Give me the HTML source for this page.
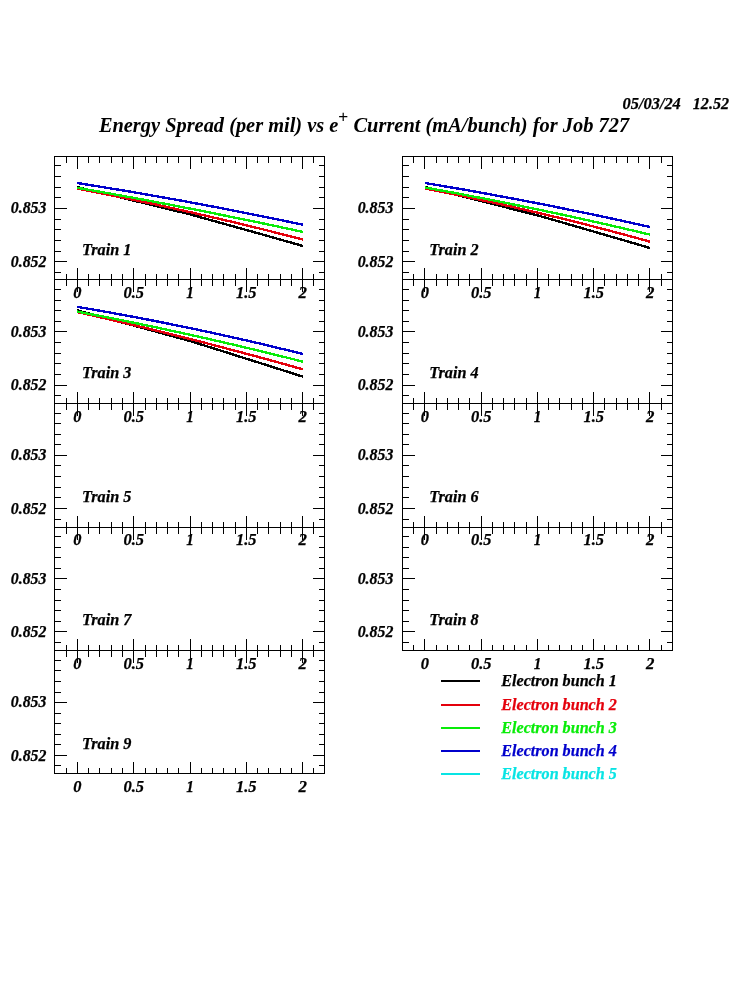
<!DOCTYPE html>
<html lang="en"><head><meta charset="utf-8"><title>Energy Spread (per mil) vs e+ Current (mA/bunch) for Job 727</title>
<style>html,body{margin:0;padding:0;background:#fff}body{width:750px;height:1000px;overflow:hidden}svg{display:block;will-change:transform}text{white-space:pre}</style>
</head><body>
<svg width="750" height="1000" viewBox="0 0 750 1000">
<g fill="#000" shape-rendering="crispEdges">
<rect x="54" y="156" width="271" height="1"/>
<rect x="54" y="279" width="271" height="1"/>
<rect x="54" y="156" width="1" height="124"/>
<rect x="324" y="156" width="1" height="124"/>
<rect x="66" y="156" width="1" height="7"/>
<rect x="66" y="274" width="1" height="6"/>
<rect x="77" y="156" width="1" height="13"/>
<rect x="77" y="268" width="1" height="12"/>
<rect x="88" y="156" width="1" height="7"/>
<rect x="88" y="274" width="1" height="6"/>
<rect x="99" y="156" width="1" height="7"/>
<rect x="99" y="274" width="1" height="6"/>
<rect x="111" y="156" width="1" height="7"/>
<rect x="111" y="274" width="1" height="6"/>
<rect x="122" y="156" width="1" height="7"/>
<rect x="122" y="274" width="1" height="6"/>
<rect x="133" y="156" width="1" height="13"/>
<rect x="133" y="268" width="1" height="12"/>
<rect x="145" y="156" width="1" height="7"/>
<rect x="145" y="274" width="1" height="6"/>
<rect x="156" y="156" width="1" height="7"/>
<rect x="156" y="274" width="1" height="6"/>
<rect x="167" y="156" width="1" height="7"/>
<rect x="167" y="274" width="1" height="6"/>
<rect x="178" y="156" width="1" height="7"/>
<rect x="178" y="274" width="1" height="6"/>
<rect x="190" y="156" width="1" height="13"/>
<rect x="190" y="268" width="1" height="12"/>
<rect x="201" y="156" width="1" height="7"/>
<rect x="201" y="274" width="1" height="6"/>
<rect x="212" y="156" width="1" height="7"/>
<rect x="212" y="274" width="1" height="6"/>
<rect x="223" y="156" width="1" height="7"/>
<rect x="223" y="274" width="1" height="6"/>
<rect x="235" y="156" width="1" height="7"/>
<rect x="235" y="274" width="1" height="6"/>
<rect x="246" y="156" width="1" height="13"/>
<rect x="246" y="268" width="1" height="12"/>
<rect x="257" y="156" width="1" height="7"/>
<rect x="257" y="274" width="1" height="6"/>
<rect x="268" y="156" width="1" height="7"/>
<rect x="268" y="274" width="1" height="6"/>
<rect x="280" y="156" width="1" height="7"/>
<rect x="280" y="274" width="1" height="6"/>
<rect x="291" y="156" width="1" height="7"/>
<rect x="291" y="274" width="1" height="6"/>
<rect x="302" y="156" width="1" height="13"/>
<rect x="302" y="268" width="1" height="12"/>
<rect x="313" y="156" width="1" height="7"/>
<rect x="313" y="274" width="1" height="6"/>
<rect x="54" y="165" width="7" height="1"/>
<rect x="319" y="165" width="6" height="1"/>
<rect x="54" y="176" width="7" height="1"/>
<rect x="319" y="176" width="6" height="1"/>
<rect x="54" y="187" width="7" height="1"/>
<rect x="319" y="187" width="6" height="1"/>
<rect x="54" y="197" width="7" height="1"/>
<rect x="319" y="197" width="6" height="1"/>
<rect x="54" y="208" width="13" height="1"/>
<rect x="313" y="208" width="12" height="1"/>
<rect x="54" y="219" width="7" height="1"/>
<rect x="319" y="219" width="6" height="1"/>
<rect x="54" y="229" width="7" height="1"/>
<rect x="319" y="229" width="6" height="1"/>
<rect x="54" y="240" width="7" height="1"/>
<rect x="319" y="240" width="6" height="1"/>
<rect x="54" y="251" width="7" height="1"/>
<rect x="319" y="251" width="6" height="1"/>
<rect x="54" y="261" width="13" height="1"/>
<rect x="313" y="261" width="12" height="1"/>
<rect x="54" y="272" width="7" height="1"/>
<rect x="319" y="272" width="6" height="1"/>
<rect x="402" y="156" width="271" height="1"/>
<rect x="402" y="279" width="271" height="1"/>
<rect x="402" y="156" width="1" height="124"/>
<rect x="672" y="156" width="1" height="124"/>
<rect x="413" y="156" width="1" height="7"/>
<rect x="413" y="274" width="1" height="6"/>
<rect x="424" y="156" width="1" height="13"/>
<rect x="424" y="268" width="1" height="12"/>
<rect x="436" y="156" width="1" height="7"/>
<rect x="436" y="274" width="1" height="6"/>
<rect x="447" y="156" width="1" height="7"/>
<rect x="447" y="274" width="1" height="6"/>
<rect x="458" y="156" width="1" height="7"/>
<rect x="458" y="274" width="1" height="6"/>
<rect x="469" y="156" width="1" height="7"/>
<rect x="469" y="274" width="1" height="6"/>
<rect x="481" y="156" width="1" height="13"/>
<rect x="481" y="268" width="1" height="12"/>
<rect x="492" y="156" width="1" height="7"/>
<rect x="492" y="274" width="1" height="6"/>
<rect x="503" y="156" width="1" height="7"/>
<rect x="503" y="274" width="1" height="6"/>
<rect x="514" y="156" width="1" height="7"/>
<rect x="514" y="274" width="1" height="6"/>
<rect x="526" y="156" width="1" height="7"/>
<rect x="526" y="274" width="1" height="6"/>
<rect x="537" y="156" width="1" height="13"/>
<rect x="537" y="268" width="1" height="12"/>
<rect x="548" y="156" width="1" height="7"/>
<rect x="548" y="274" width="1" height="6"/>
<rect x="559" y="156" width="1" height="7"/>
<rect x="559" y="274" width="1" height="6"/>
<rect x="571" y="156" width="1" height="7"/>
<rect x="571" y="274" width="1" height="6"/>
<rect x="582" y="156" width="1" height="7"/>
<rect x="582" y="274" width="1" height="6"/>
<rect x="593" y="156" width="1" height="13"/>
<rect x="593" y="268" width="1" height="12"/>
<rect x="604" y="156" width="1" height="7"/>
<rect x="604" y="274" width="1" height="6"/>
<rect x="616" y="156" width="1" height="7"/>
<rect x="616" y="274" width="1" height="6"/>
<rect x="627" y="156" width="1" height="7"/>
<rect x="627" y="274" width="1" height="6"/>
<rect x="638" y="156" width="1" height="7"/>
<rect x="638" y="274" width="1" height="6"/>
<rect x="649" y="156" width="1" height="13"/>
<rect x="649" y="268" width="1" height="12"/>
<rect x="661" y="156" width="1" height="7"/>
<rect x="661" y="274" width="1" height="6"/>
<rect x="402" y="165" width="7" height="1"/>
<rect x="667" y="165" width="6" height="1"/>
<rect x="402" y="176" width="7" height="1"/>
<rect x="667" y="176" width="6" height="1"/>
<rect x="402" y="187" width="7" height="1"/>
<rect x="667" y="187" width="6" height="1"/>
<rect x="402" y="197" width="7" height="1"/>
<rect x="667" y="197" width="6" height="1"/>
<rect x="402" y="208" width="13" height="1"/>
<rect x="661" y="208" width="12" height="1"/>
<rect x="402" y="219" width="7" height="1"/>
<rect x="667" y="219" width="6" height="1"/>
<rect x="402" y="229" width="7" height="1"/>
<rect x="667" y="229" width="6" height="1"/>
<rect x="402" y="240" width="7" height="1"/>
<rect x="667" y="240" width="6" height="1"/>
<rect x="402" y="251" width="7" height="1"/>
<rect x="667" y="251" width="6" height="1"/>
<rect x="402" y="261" width="13" height="1"/>
<rect x="661" y="261" width="12" height="1"/>
<rect x="402" y="272" width="7" height="1"/>
<rect x="667" y="272" width="6" height="1"/>
<rect x="54" y="279" width="271" height="1"/>
<rect x="54" y="403" width="271" height="1"/>
<rect x="54" y="279" width="1" height="125"/>
<rect x="324" y="279" width="1" height="125"/>
<rect x="66" y="279" width="1" height="7"/>
<rect x="66" y="398" width="1" height="6"/>
<rect x="77" y="279" width="1" height="13"/>
<rect x="77" y="392" width="1" height="12"/>
<rect x="88" y="279" width="1" height="7"/>
<rect x="88" y="398" width="1" height="6"/>
<rect x="99" y="279" width="1" height="7"/>
<rect x="99" y="398" width="1" height="6"/>
<rect x="111" y="279" width="1" height="7"/>
<rect x="111" y="398" width="1" height="6"/>
<rect x="122" y="279" width="1" height="7"/>
<rect x="122" y="398" width="1" height="6"/>
<rect x="133" y="279" width="1" height="13"/>
<rect x="133" y="392" width="1" height="12"/>
<rect x="145" y="279" width="1" height="7"/>
<rect x="145" y="398" width="1" height="6"/>
<rect x="156" y="279" width="1" height="7"/>
<rect x="156" y="398" width="1" height="6"/>
<rect x="167" y="279" width="1" height="7"/>
<rect x="167" y="398" width="1" height="6"/>
<rect x="178" y="279" width="1" height="7"/>
<rect x="178" y="398" width="1" height="6"/>
<rect x="190" y="279" width="1" height="13"/>
<rect x="190" y="392" width="1" height="12"/>
<rect x="201" y="279" width="1" height="7"/>
<rect x="201" y="398" width="1" height="6"/>
<rect x="212" y="279" width="1" height="7"/>
<rect x="212" y="398" width="1" height="6"/>
<rect x="223" y="279" width="1" height="7"/>
<rect x="223" y="398" width="1" height="6"/>
<rect x="235" y="279" width="1" height="7"/>
<rect x="235" y="398" width="1" height="6"/>
<rect x="246" y="279" width="1" height="13"/>
<rect x="246" y="392" width="1" height="12"/>
<rect x="257" y="279" width="1" height="7"/>
<rect x="257" y="398" width="1" height="6"/>
<rect x="268" y="279" width="1" height="7"/>
<rect x="268" y="398" width="1" height="6"/>
<rect x="280" y="279" width="1" height="7"/>
<rect x="280" y="398" width="1" height="6"/>
<rect x="291" y="279" width="1" height="7"/>
<rect x="291" y="398" width="1" height="6"/>
<rect x="302" y="279" width="1" height="13"/>
<rect x="302" y="392" width="1" height="12"/>
<rect x="313" y="279" width="1" height="7"/>
<rect x="313" y="398" width="1" height="6"/>
<rect x="54" y="289" width="7" height="1"/>
<rect x="319" y="289" width="6" height="1"/>
<rect x="54" y="300" width="7" height="1"/>
<rect x="319" y="300" width="6" height="1"/>
<rect x="54" y="310" width="7" height="1"/>
<rect x="319" y="310" width="6" height="1"/>
<rect x="54" y="321" width="7" height="1"/>
<rect x="319" y="321" width="6" height="1"/>
<rect x="54" y="331" width="13" height="1"/>
<rect x="313" y="331" width="12" height="1"/>
<rect x="54" y="342" width="7" height="1"/>
<rect x="319" y="342" width="6" height="1"/>
<rect x="54" y="353" width="7" height="1"/>
<rect x="319" y="353" width="6" height="1"/>
<rect x="54" y="363" width="7" height="1"/>
<rect x="319" y="363" width="6" height="1"/>
<rect x="54" y="374" width="7" height="1"/>
<rect x="319" y="374" width="6" height="1"/>
<rect x="54" y="385" width="13" height="1"/>
<rect x="313" y="385" width="12" height="1"/>
<rect x="54" y="395" width="7" height="1"/>
<rect x="319" y="395" width="6" height="1"/>
<rect x="402" y="279" width="271" height="1"/>
<rect x="402" y="403" width="271" height="1"/>
<rect x="402" y="279" width="1" height="125"/>
<rect x="672" y="279" width="1" height="125"/>
<rect x="413" y="279" width="1" height="7"/>
<rect x="413" y="398" width="1" height="6"/>
<rect x="424" y="279" width="1" height="13"/>
<rect x="424" y="392" width="1" height="12"/>
<rect x="436" y="279" width="1" height="7"/>
<rect x="436" y="398" width="1" height="6"/>
<rect x="447" y="279" width="1" height="7"/>
<rect x="447" y="398" width="1" height="6"/>
<rect x="458" y="279" width="1" height="7"/>
<rect x="458" y="398" width="1" height="6"/>
<rect x="469" y="279" width="1" height="7"/>
<rect x="469" y="398" width="1" height="6"/>
<rect x="481" y="279" width="1" height="13"/>
<rect x="481" y="392" width="1" height="12"/>
<rect x="492" y="279" width="1" height="7"/>
<rect x="492" y="398" width="1" height="6"/>
<rect x="503" y="279" width="1" height="7"/>
<rect x="503" y="398" width="1" height="6"/>
<rect x="514" y="279" width="1" height="7"/>
<rect x="514" y="398" width="1" height="6"/>
<rect x="526" y="279" width="1" height="7"/>
<rect x="526" y="398" width="1" height="6"/>
<rect x="537" y="279" width="1" height="13"/>
<rect x="537" y="392" width="1" height="12"/>
<rect x="548" y="279" width="1" height="7"/>
<rect x="548" y="398" width="1" height="6"/>
<rect x="559" y="279" width="1" height="7"/>
<rect x="559" y="398" width="1" height="6"/>
<rect x="571" y="279" width="1" height="7"/>
<rect x="571" y="398" width="1" height="6"/>
<rect x="582" y="279" width="1" height="7"/>
<rect x="582" y="398" width="1" height="6"/>
<rect x="593" y="279" width="1" height="13"/>
<rect x="593" y="392" width="1" height="12"/>
<rect x="604" y="279" width="1" height="7"/>
<rect x="604" y="398" width="1" height="6"/>
<rect x="616" y="279" width="1" height="7"/>
<rect x="616" y="398" width="1" height="6"/>
<rect x="627" y="279" width="1" height="7"/>
<rect x="627" y="398" width="1" height="6"/>
<rect x="638" y="279" width="1" height="7"/>
<rect x="638" y="398" width="1" height="6"/>
<rect x="649" y="279" width="1" height="13"/>
<rect x="649" y="392" width="1" height="12"/>
<rect x="661" y="279" width="1" height="7"/>
<rect x="661" y="398" width="1" height="6"/>
<rect x="402" y="289" width="7" height="1"/>
<rect x="667" y="289" width="6" height="1"/>
<rect x="402" y="300" width="7" height="1"/>
<rect x="667" y="300" width="6" height="1"/>
<rect x="402" y="310" width="7" height="1"/>
<rect x="667" y="310" width="6" height="1"/>
<rect x="402" y="321" width="7" height="1"/>
<rect x="667" y="321" width="6" height="1"/>
<rect x="402" y="331" width="13" height="1"/>
<rect x="661" y="331" width="12" height="1"/>
<rect x="402" y="342" width="7" height="1"/>
<rect x="667" y="342" width="6" height="1"/>
<rect x="402" y="353" width="7" height="1"/>
<rect x="667" y="353" width="6" height="1"/>
<rect x="402" y="363" width="7" height="1"/>
<rect x="667" y="363" width="6" height="1"/>
<rect x="402" y="374" width="7" height="1"/>
<rect x="667" y="374" width="6" height="1"/>
<rect x="402" y="385" width="13" height="1"/>
<rect x="661" y="385" width="12" height="1"/>
<rect x="402" y="395" width="7" height="1"/>
<rect x="667" y="395" width="6" height="1"/>
<rect x="54" y="403" width="271" height="1"/>
<rect x="54" y="527" width="271" height="1"/>
<rect x="54" y="403" width="1" height="125"/>
<rect x="324" y="403" width="1" height="125"/>
<rect x="66" y="403" width="1" height="7"/>
<rect x="66" y="522" width="1" height="6"/>
<rect x="77" y="403" width="1" height="13"/>
<rect x="77" y="516" width="1" height="12"/>
<rect x="88" y="403" width="1" height="7"/>
<rect x="88" y="522" width="1" height="6"/>
<rect x="99" y="403" width="1" height="7"/>
<rect x="99" y="522" width="1" height="6"/>
<rect x="111" y="403" width="1" height="7"/>
<rect x="111" y="522" width="1" height="6"/>
<rect x="122" y="403" width="1" height="7"/>
<rect x="122" y="522" width="1" height="6"/>
<rect x="133" y="403" width="1" height="13"/>
<rect x="133" y="516" width="1" height="12"/>
<rect x="145" y="403" width="1" height="7"/>
<rect x="145" y="522" width="1" height="6"/>
<rect x="156" y="403" width="1" height="7"/>
<rect x="156" y="522" width="1" height="6"/>
<rect x="167" y="403" width="1" height="7"/>
<rect x="167" y="522" width="1" height="6"/>
<rect x="178" y="403" width="1" height="7"/>
<rect x="178" y="522" width="1" height="6"/>
<rect x="190" y="403" width="1" height="13"/>
<rect x="190" y="516" width="1" height="12"/>
<rect x="201" y="403" width="1" height="7"/>
<rect x="201" y="522" width="1" height="6"/>
<rect x="212" y="403" width="1" height="7"/>
<rect x="212" y="522" width="1" height="6"/>
<rect x="223" y="403" width="1" height="7"/>
<rect x="223" y="522" width="1" height="6"/>
<rect x="235" y="403" width="1" height="7"/>
<rect x="235" y="522" width="1" height="6"/>
<rect x="246" y="403" width="1" height="13"/>
<rect x="246" y="516" width="1" height="12"/>
<rect x="257" y="403" width="1" height="7"/>
<rect x="257" y="522" width="1" height="6"/>
<rect x="268" y="403" width="1" height="7"/>
<rect x="268" y="522" width="1" height="6"/>
<rect x="280" y="403" width="1" height="7"/>
<rect x="280" y="522" width="1" height="6"/>
<rect x="291" y="403" width="1" height="7"/>
<rect x="291" y="522" width="1" height="6"/>
<rect x="302" y="403" width="1" height="13"/>
<rect x="302" y="516" width="1" height="12"/>
<rect x="313" y="403" width="1" height="7"/>
<rect x="313" y="522" width="1" height="6"/>
<rect x="54" y="413" width="7" height="1"/>
<rect x="319" y="413" width="6" height="1"/>
<rect x="54" y="423" width="7" height="1"/>
<rect x="319" y="423" width="6" height="1"/>
<rect x="54" y="434" width="7" height="1"/>
<rect x="319" y="434" width="6" height="1"/>
<rect x="54" y="444" width="7" height="1"/>
<rect x="319" y="444" width="6" height="1"/>
<rect x="54" y="455" width="13" height="1"/>
<rect x="313" y="455" width="12" height="1"/>
<rect x="54" y="465" width="7" height="1"/>
<rect x="319" y="465" width="6" height="1"/>
<rect x="54" y="476" width="7" height="1"/>
<rect x="319" y="476" width="6" height="1"/>
<rect x="54" y="487" width="7" height="1"/>
<rect x="319" y="487" width="6" height="1"/>
<rect x="54" y="497" width="7" height="1"/>
<rect x="319" y="497" width="6" height="1"/>
<rect x="54" y="508" width="13" height="1"/>
<rect x="313" y="508" width="12" height="1"/>
<rect x="54" y="519" width="7" height="1"/>
<rect x="319" y="519" width="6" height="1"/>
<rect x="402" y="403" width="271" height="1"/>
<rect x="402" y="527" width="271" height="1"/>
<rect x="402" y="403" width="1" height="125"/>
<rect x="672" y="403" width="1" height="125"/>
<rect x="413" y="403" width="1" height="7"/>
<rect x="413" y="522" width="1" height="6"/>
<rect x="424" y="403" width="1" height="13"/>
<rect x="424" y="516" width="1" height="12"/>
<rect x="436" y="403" width="1" height="7"/>
<rect x="436" y="522" width="1" height="6"/>
<rect x="447" y="403" width="1" height="7"/>
<rect x="447" y="522" width="1" height="6"/>
<rect x="458" y="403" width="1" height="7"/>
<rect x="458" y="522" width="1" height="6"/>
<rect x="469" y="403" width="1" height="7"/>
<rect x="469" y="522" width="1" height="6"/>
<rect x="481" y="403" width="1" height="13"/>
<rect x="481" y="516" width="1" height="12"/>
<rect x="492" y="403" width="1" height="7"/>
<rect x="492" y="522" width="1" height="6"/>
<rect x="503" y="403" width="1" height="7"/>
<rect x="503" y="522" width="1" height="6"/>
<rect x="514" y="403" width="1" height="7"/>
<rect x="514" y="522" width="1" height="6"/>
<rect x="526" y="403" width="1" height="7"/>
<rect x="526" y="522" width="1" height="6"/>
<rect x="537" y="403" width="1" height="13"/>
<rect x="537" y="516" width="1" height="12"/>
<rect x="548" y="403" width="1" height="7"/>
<rect x="548" y="522" width="1" height="6"/>
<rect x="559" y="403" width="1" height="7"/>
<rect x="559" y="522" width="1" height="6"/>
<rect x="571" y="403" width="1" height="7"/>
<rect x="571" y="522" width="1" height="6"/>
<rect x="582" y="403" width="1" height="7"/>
<rect x="582" y="522" width="1" height="6"/>
<rect x="593" y="403" width="1" height="13"/>
<rect x="593" y="516" width="1" height="12"/>
<rect x="604" y="403" width="1" height="7"/>
<rect x="604" y="522" width="1" height="6"/>
<rect x="616" y="403" width="1" height="7"/>
<rect x="616" y="522" width="1" height="6"/>
<rect x="627" y="403" width="1" height="7"/>
<rect x="627" y="522" width="1" height="6"/>
<rect x="638" y="403" width="1" height="7"/>
<rect x="638" y="522" width="1" height="6"/>
<rect x="649" y="403" width="1" height="13"/>
<rect x="649" y="516" width="1" height="12"/>
<rect x="661" y="403" width="1" height="7"/>
<rect x="661" y="522" width="1" height="6"/>
<rect x="402" y="413" width="7" height="1"/>
<rect x="667" y="413" width="6" height="1"/>
<rect x="402" y="423" width="7" height="1"/>
<rect x="667" y="423" width="6" height="1"/>
<rect x="402" y="434" width="7" height="1"/>
<rect x="667" y="434" width="6" height="1"/>
<rect x="402" y="444" width="7" height="1"/>
<rect x="667" y="444" width="6" height="1"/>
<rect x="402" y="455" width="13" height="1"/>
<rect x="661" y="455" width="12" height="1"/>
<rect x="402" y="465" width="7" height="1"/>
<rect x="667" y="465" width="6" height="1"/>
<rect x="402" y="476" width="7" height="1"/>
<rect x="667" y="476" width="6" height="1"/>
<rect x="402" y="487" width="7" height="1"/>
<rect x="667" y="487" width="6" height="1"/>
<rect x="402" y="497" width="7" height="1"/>
<rect x="667" y="497" width="6" height="1"/>
<rect x="402" y="508" width="13" height="1"/>
<rect x="661" y="508" width="12" height="1"/>
<rect x="402" y="519" width="7" height="1"/>
<rect x="667" y="519" width="6" height="1"/>
<rect x="54" y="527" width="271" height="1"/>
<rect x="54" y="650" width="271" height="1"/>
<rect x="54" y="527" width="1" height="124"/>
<rect x="324" y="527" width="1" height="124"/>
<rect x="66" y="527" width="1" height="7"/>
<rect x="66" y="645" width="1" height="6"/>
<rect x="77" y="527" width="1" height="13"/>
<rect x="77" y="639" width="1" height="12"/>
<rect x="88" y="527" width="1" height="7"/>
<rect x="88" y="645" width="1" height="6"/>
<rect x="99" y="527" width="1" height="7"/>
<rect x="99" y="645" width="1" height="6"/>
<rect x="111" y="527" width="1" height="7"/>
<rect x="111" y="645" width="1" height="6"/>
<rect x="122" y="527" width="1" height="7"/>
<rect x="122" y="645" width="1" height="6"/>
<rect x="133" y="527" width="1" height="13"/>
<rect x="133" y="639" width="1" height="12"/>
<rect x="145" y="527" width="1" height="7"/>
<rect x="145" y="645" width="1" height="6"/>
<rect x="156" y="527" width="1" height="7"/>
<rect x="156" y="645" width="1" height="6"/>
<rect x="167" y="527" width="1" height="7"/>
<rect x="167" y="645" width="1" height="6"/>
<rect x="178" y="527" width="1" height="7"/>
<rect x="178" y="645" width="1" height="6"/>
<rect x="190" y="527" width="1" height="13"/>
<rect x="190" y="639" width="1" height="12"/>
<rect x="201" y="527" width="1" height="7"/>
<rect x="201" y="645" width="1" height="6"/>
<rect x="212" y="527" width="1" height="7"/>
<rect x="212" y="645" width="1" height="6"/>
<rect x="223" y="527" width="1" height="7"/>
<rect x="223" y="645" width="1" height="6"/>
<rect x="235" y="527" width="1" height="7"/>
<rect x="235" y="645" width="1" height="6"/>
<rect x="246" y="527" width="1" height="13"/>
<rect x="246" y="639" width="1" height="12"/>
<rect x="257" y="527" width="1" height="7"/>
<rect x="257" y="645" width="1" height="6"/>
<rect x="268" y="527" width="1" height="7"/>
<rect x="268" y="645" width="1" height="6"/>
<rect x="280" y="527" width="1" height="7"/>
<rect x="280" y="645" width="1" height="6"/>
<rect x="291" y="527" width="1" height="7"/>
<rect x="291" y="645" width="1" height="6"/>
<rect x="302" y="527" width="1" height="13"/>
<rect x="302" y="639" width="1" height="12"/>
<rect x="313" y="527" width="1" height="7"/>
<rect x="313" y="645" width="1" height="6"/>
<rect x="54" y="536" width="7" height="1"/>
<rect x="319" y="536" width="6" height="1"/>
<rect x="54" y="547" width="7" height="1"/>
<rect x="319" y="547" width="6" height="1"/>
<rect x="54" y="557" width="7" height="1"/>
<rect x="319" y="557" width="6" height="1"/>
<rect x="54" y="568" width="7" height="1"/>
<rect x="319" y="568" width="6" height="1"/>
<rect x="54" y="578" width="13" height="1"/>
<rect x="313" y="578" width="12" height="1"/>
<rect x="54" y="589" width="7" height="1"/>
<rect x="319" y="589" width="6" height="1"/>
<rect x="54" y="600" width="7" height="1"/>
<rect x="319" y="600" width="6" height="1"/>
<rect x="54" y="610" width="7" height="1"/>
<rect x="319" y="610" width="6" height="1"/>
<rect x="54" y="621" width="7" height="1"/>
<rect x="319" y="621" width="6" height="1"/>
<rect x="54" y="631" width="13" height="1"/>
<rect x="313" y="631" width="12" height="1"/>
<rect x="54" y="642" width="7" height="1"/>
<rect x="319" y="642" width="6" height="1"/>
<rect x="402" y="527" width="271" height="1"/>
<rect x="402" y="650" width="271" height="1"/>
<rect x="402" y="527" width="1" height="124"/>
<rect x="672" y="527" width="1" height="124"/>
<rect x="413" y="527" width="1" height="7"/>
<rect x="413" y="645" width="1" height="6"/>
<rect x="424" y="527" width="1" height="13"/>
<rect x="424" y="639" width="1" height="12"/>
<rect x="436" y="527" width="1" height="7"/>
<rect x="436" y="645" width="1" height="6"/>
<rect x="447" y="527" width="1" height="7"/>
<rect x="447" y="645" width="1" height="6"/>
<rect x="458" y="527" width="1" height="7"/>
<rect x="458" y="645" width="1" height="6"/>
<rect x="469" y="527" width="1" height="7"/>
<rect x="469" y="645" width="1" height="6"/>
<rect x="481" y="527" width="1" height="13"/>
<rect x="481" y="639" width="1" height="12"/>
<rect x="492" y="527" width="1" height="7"/>
<rect x="492" y="645" width="1" height="6"/>
<rect x="503" y="527" width="1" height="7"/>
<rect x="503" y="645" width="1" height="6"/>
<rect x="514" y="527" width="1" height="7"/>
<rect x="514" y="645" width="1" height="6"/>
<rect x="526" y="527" width="1" height="7"/>
<rect x="526" y="645" width="1" height="6"/>
<rect x="537" y="527" width="1" height="13"/>
<rect x="537" y="639" width="1" height="12"/>
<rect x="548" y="527" width="1" height="7"/>
<rect x="548" y="645" width="1" height="6"/>
<rect x="559" y="527" width="1" height="7"/>
<rect x="559" y="645" width="1" height="6"/>
<rect x="571" y="527" width="1" height="7"/>
<rect x="571" y="645" width="1" height="6"/>
<rect x="582" y="527" width="1" height="7"/>
<rect x="582" y="645" width="1" height="6"/>
<rect x="593" y="527" width="1" height="13"/>
<rect x="593" y="639" width="1" height="12"/>
<rect x="604" y="527" width="1" height="7"/>
<rect x="604" y="645" width="1" height="6"/>
<rect x="616" y="527" width="1" height="7"/>
<rect x="616" y="645" width="1" height="6"/>
<rect x="627" y="527" width="1" height="7"/>
<rect x="627" y="645" width="1" height="6"/>
<rect x="638" y="527" width="1" height="7"/>
<rect x="638" y="645" width="1" height="6"/>
<rect x="649" y="527" width="1" height="13"/>
<rect x="649" y="639" width="1" height="12"/>
<rect x="661" y="527" width="1" height="7"/>
<rect x="661" y="645" width="1" height="6"/>
<rect x="402" y="536" width="7" height="1"/>
<rect x="667" y="536" width="6" height="1"/>
<rect x="402" y="547" width="7" height="1"/>
<rect x="667" y="547" width="6" height="1"/>
<rect x="402" y="557" width="7" height="1"/>
<rect x="667" y="557" width="6" height="1"/>
<rect x="402" y="568" width="7" height="1"/>
<rect x="667" y="568" width="6" height="1"/>
<rect x="402" y="578" width="13" height="1"/>
<rect x="661" y="578" width="12" height="1"/>
<rect x="402" y="589" width="7" height="1"/>
<rect x="667" y="589" width="6" height="1"/>
<rect x="402" y="600" width="7" height="1"/>
<rect x="667" y="600" width="6" height="1"/>
<rect x="402" y="610" width="7" height="1"/>
<rect x="667" y="610" width="6" height="1"/>
<rect x="402" y="621" width="7" height="1"/>
<rect x="667" y="621" width="6" height="1"/>
<rect x="402" y="631" width="13" height="1"/>
<rect x="661" y="631" width="12" height="1"/>
<rect x="402" y="642" width="7" height="1"/>
<rect x="667" y="642" width="6" height="1"/>
<rect x="54" y="650" width="271" height="1"/>
<rect x="54" y="773" width="271" height="1"/>
<rect x="54" y="650" width="1" height="124"/>
<rect x="324" y="650" width="1" height="124"/>
<rect x="66" y="650" width="1" height="7"/>
<rect x="66" y="768" width="1" height="6"/>
<rect x="77" y="650" width="1" height="13"/>
<rect x="77" y="762" width="1" height="12"/>
<rect x="88" y="650" width="1" height="7"/>
<rect x="88" y="768" width="1" height="6"/>
<rect x="99" y="650" width="1" height="7"/>
<rect x="99" y="768" width="1" height="6"/>
<rect x="111" y="650" width="1" height="7"/>
<rect x="111" y="768" width="1" height="6"/>
<rect x="122" y="650" width="1" height="7"/>
<rect x="122" y="768" width="1" height="6"/>
<rect x="133" y="650" width="1" height="13"/>
<rect x="133" y="762" width="1" height="12"/>
<rect x="145" y="650" width="1" height="7"/>
<rect x="145" y="768" width="1" height="6"/>
<rect x="156" y="650" width="1" height="7"/>
<rect x="156" y="768" width="1" height="6"/>
<rect x="167" y="650" width="1" height="7"/>
<rect x="167" y="768" width="1" height="6"/>
<rect x="178" y="650" width="1" height="7"/>
<rect x="178" y="768" width="1" height="6"/>
<rect x="190" y="650" width="1" height="13"/>
<rect x="190" y="762" width="1" height="12"/>
<rect x="201" y="650" width="1" height="7"/>
<rect x="201" y="768" width="1" height="6"/>
<rect x="212" y="650" width="1" height="7"/>
<rect x="212" y="768" width="1" height="6"/>
<rect x="223" y="650" width="1" height="7"/>
<rect x="223" y="768" width="1" height="6"/>
<rect x="235" y="650" width="1" height="7"/>
<rect x="235" y="768" width="1" height="6"/>
<rect x="246" y="650" width="1" height="13"/>
<rect x="246" y="762" width="1" height="12"/>
<rect x="257" y="650" width="1" height="7"/>
<rect x="257" y="768" width="1" height="6"/>
<rect x="268" y="650" width="1" height="7"/>
<rect x="268" y="768" width="1" height="6"/>
<rect x="280" y="650" width="1" height="7"/>
<rect x="280" y="768" width="1" height="6"/>
<rect x="291" y="650" width="1" height="7"/>
<rect x="291" y="768" width="1" height="6"/>
<rect x="302" y="650" width="1" height="13"/>
<rect x="302" y="762" width="1" height="12"/>
<rect x="313" y="650" width="1" height="7"/>
<rect x="313" y="768" width="1" height="6"/>
<rect x="54" y="660" width="7" height="1"/>
<rect x="319" y="660" width="6" height="1"/>
<rect x="54" y="670" width="7" height="1"/>
<rect x="319" y="670" width="6" height="1"/>
<rect x="54" y="681" width="7" height="1"/>
<rect x="319" y="681" width="6" height="1"/>
<rect x="54" y="692" width="7" height="1"/>
<rect x="319" y="692" width="6" height="1"/>
<rect x="54" y="702" width="13" height="1"/>
<rect x="313" y="702" width="12" height="1"/>
<rect x="54" y="713" width="7" height="1"/>
<rect x="319" y="713" width="6" height="1"/>
<rect x="54" y="723" width="7" height="1"/>
<rect x="319" y="723" width="6" height="1"/>
<rect x="54" y="734" width="7" height="1"/>
<rect x="319" y="734" width="6" height="1"/>
<rect x="54" y="744" width="7" height="1"/>
<rect x="319" y="744" width="6" height="1"/>
<rect x="54" y="755" width="13" height="1"/>
<rect x="313" y="755" width="12" height="1"/>
<rect x="54" y="765" width="7" height="1"/>
<rect x="319" y="765" width="6" height="1"/>
</g>
<g font-family='"Liberation Serif","Times New Roman",Times,serif' font-weight="bold" font-style="italic" font-size="16px" fill="#000" stroke="#000" stroke-width="0.25">
<text x="10.8" y="213.3" textLength="35.6" lengthAdjust="spacingAndGlyphs">0.853</text>
<text x="10.8" y="266.7" textLength="35.6" lengthAdjust="spacingAndGlyphs">0.852</text>
<text x="73.3" y="298.4" textLength="8.2" lengthAdjust="spacingAndGlyphs">0</text>
<text x="123.4" y="298.4" textLength="20.6" lengthAdjust="spacingAndGlyphs">0.5</text>
<text x="186.2" y="298.4" textLength="7.6" lengthAdjust="spacingAndGlyphs">1</text>
<text x="236" y="298.4" textLength="20.6" lengthAdjust="spacingAndGlyphs">1.5</text>
<text x="298.4" y="298.4" textLength="8.4" lengthAdjust="spacingAndGlyphs">2</text>
<text x="82" y="255" textLength="49.4" lengthAdjust="spacingAndGlyphs">Train 1</text>
<text x="357.7" y="213.3" textLength="35.6" lengthAdjust="spacingAndGlyphs">0.853</text>
<text x="357.7" y="266.7" textLength="35.6" lengthAdjust="spacingAndGlyphs">0.852</text>
<text x="420.8" y="298.4" textLength="8.2" lengthAdjust="spacingAndGlyphs">0</text>
<text x="470.9" y="298.4" textLength="20.6" lengthAdjust="spacingAndGlyphs">0.5</text>
<text x="533.7" y="298.4" textLength="7.6" lengthAdjust="spacingAndGlyphs">1</text>
<text x="583.5" y="298.4" textLength="20.6" lengthAdjust="spacingAndGlyphs">1.5</text>
<text x="645.9" y="298.4" textLength="8.4" lengthAdjust="spacingAndGlyphs">2</text>
<text x="429.2" y="255" textLength="49.4" lengthAdjust="spacingAndGlyphs">Train 2</text>
<text x="10.8" y="336.8" textLength="35.6" lengthAdjust="spacingAndGlyphs">0.853</text>
<text x="10.8" y="390.1" textLength="35.6" lengthAdjust="spacingAndGlyphs">0.852</text>
<text x="73.3" y="421.9" textLength="8.2" lengthAdjust="spacingAndGlyphs">0</text>
<text x="123.4" y="421.9" textLength="20.6" lengthAdjust="spacingAndGlyphs">0.5</text>
<text x="186.2" y="421.9" textLength="7.6" lengthAdjust="spacingAndGlyphs">1</text>
<text x="236" y="421.9" textLength="20.6" lengthAdjust="spacingAndGlyphs">1.5</text>
<text x="298.4" y="421.9" textLength="8.4" lengthAdjust="spacingAndGlyphs">2</text>
<text x="82" y="378.4" textLength="49.4" lengthAdjust="spacingAndGlyphs">Train 3</text>
<text x="357.7" y="336.8" textLength="35.6" lengthAdjust="spacingAndGlyphs">0.853</text>
<text x="357.7" y="390.1" textLength="35.6" lengthAdjust="spacingAndGlyphs">0.852</text>
<text x="420.8" y="421.9" textLength="8.2" lengthAdjust="spacingAndGlyphs">0</text>
<text x="470.9" y="421.9" textLength="20.6" lengthAdjust="spacingAndGlyphs">0.5</text>
<text x="533.7" y="421.9" textLength="7.6" lengthAdjust="spacingAndGlyphs">1</text>
<text x="583.5" y="421.9" textLength="20.6" lengthAdjust="spacingAndGlyphs">1.5</text>
<text x="645.9" y="421.9" textLength="8.4" lengthAdjust="spacingAndGlyphs">2</text>
<text x="429.2" y="378.4" textLength="49.4" lengthAdjust="spacingAndGlyphs">Train 4</text>
<text x="10.8" y="460.2" textLength="35.6" lengthAdjust="spacingAndGlyphs">0.853</text>
<text x="10.8" y="513.6" textLength="35.6" lengthAdjust="spacingAndGlyphs">0.852</text>
<text x="73.3" y="545.4" textLength="8.2" lengthAdjust="spacingAndGlyphs">0</text>
<text x="123.4" y="545.4" textLength="20.6" lengthAdjust="spacingAndGlyphs">0.5</text>
<text x="186.2" y="545.4" textLength="7.6" lengthAdjust="spacingAndGlyphs">1</text>
<text x="236" y="545.4" textLength="20.6" lengthAdjust="spacingAndGlyphs">1.5</text>
<text x="298.4" y="545.4" textLength="8.4" lengthAdjust="spacingAndGlyphs">2</text>
<text x="82" y="501.9" textLength="49.4" lengthAdjust="spacingAndGlyphs">Train 5</text>
<text x="357.7" y="460.2" textLength="35.6" lengthAdjust="spacingAndGlyphs">0.853</text>
<text x="357.7" y="513.6" textLength="35.6" lengthAdjust="spacingAndGlyphs">0.852</text>
<text x="420.8" y="545.4" textLength="8.2" lengthAdjust="spacingAndGlyphs">0</text>
<text x="470.9" y="545.4" textLength="20.6" lengthAdjust="spacingAndGlyphs">0.5</text>
<text x="533.7" y="545.4" textLength="7.6" lengthAdjust="spacingAndGlyphs">1</text>
<text x="583.5" y="545.4" textLength="20.6" lengthAdjust="spacingAndGlyphs">1.5</text>
<text x="645.9" y="545.4" textLength="8.4" lengthAdjust="spacingAndGlyphs">2</text>
<text x="429.2" y="501.9" textLength="49.4" lengthAdjust="spacingAndGlyphs">Train 6</text>
<text x="10.8" y="583.7" textLength="35.6" lengthAdjust="spacingAndGlyphs">0.853</text>
<text x="10.8" y="637" textLength="35.6" lengthAdjust="spacingAndGlyphs">0.852</text>
<text x="73.3" y="668.9" textLength="8.2" lengthAdjust="spacingAndGlyphs">0</text>
<text x="123.4" y="668.9" textLength="20.6" lengthAdjust="spacingAndGlyphs">0.5</text>
<text x="186.2" y="668.9" textLength="7.6" lengthAdjust="spacingAndGlyphs">1</text>
<text x="236" y="668.9" textLength="20.6" lengthAdjust="spacingAndGlyphs">1.5</text>
<text x="298.4" y="668.9" textLength="8.4" lengthAdjust="spacingAndGlyphs">2</text>
<text x="82" y="625.4" textLength="49.4" lengthAdjust="spacingAndGlyphs">Train 7</text>
<text x="357.7" y="583.7" textLength="35.6" lengthAdjust="spacingAndGlyphs">0.853</text>
<text x="357.7" y="637" textLength="35.6" lengthAdjust="spacingAndGlyphs">0.852</text>
<text x="420.8" y="668.9" textLength="8.2" lengthAdjust="spacingAndGlyphs">0</text>
<text x="470.9" y="668.9" textLength="20.6" lengthAdjust="spacingAndGlyphs">0.5</text>
<text x="533.7" y="668.9" textLength="7.6" lengthAdjust="spacingAndGlyphs">1</text>
<text x="583.5" y="668.9" textLength="20.6" lengthAdjust="spacingAndGlyphs">1.5</text>
<text x="645.9" y="668.9" textLength="8.4" lengthAdjust="spacingAndGlyphs">2</text>
<text x="429.2" y="625.4" textLength="49.4" lengthAdjust="spacingAndGlyphs">Train 8</text>
<text x="10.8" y="707.1" textLength="35.6" lengthAdjust="spacingAndGlyphs">0.853</text>
<text x="10.8" y="760.5" textLength="35.6" lengthAdjust="spacingAndGlyphs">0.852</text>
<text x="73.3" y="792.4" textLength="8.2" lengthAdjust="spacingAndGlyphs">0</text>
<text x="123.4" y="792.4" textLength="20.6" lengthAdjust="spacingAndGlyphs">0.5</text>
<text x="186.2" y="792.4" textLength="7.6" lengthAdjust="spacingAndGlyphs">1</text>
<text x="236" y="792.4" textLength="20.6" lengthAdjust="spacingAndGlyphs">1.5</text>
<text x="298.4" y="792.4" textLength="8.4" lengthAdjust="spacingAndGlyphs">2</text>
<text x="82" y="748.8" textLength="49.4" lengthAdjust="spacingAndGlyphs">Train 9</text>
</g>
<g fill="none" stroke-width="2.4" stroke-linecap="butt" stroke-linejoin="round" shape-rendering="crispEdges">
<polyline stroke="#000000" points="77.0,187.0 88.3,189.7 99.6,192.4 110.9,195.1 122.2,197.9 133.5,200.6 144.8,203.3 156.1,206.1 167.4,208.8 178.7,211.6 190.0,214.3 201.3,217.5 212.6,220.6 223.9,223.8 235.2,226.9 246.5,230.1 257.8,233.2 269.1,236.4 280.4,239.6 291.7,242.8 303.0,246.0"/>
<polyline stroke="#e4000c" points="77.0,188.6 88.3,190.8 99.6,193.0 110.9,195.2 122.2,197.5 133.5,199.8 144.8,202.2 156.1,204.6 167.4,207.1 178.7,209.6 190.0,212.1 201.3,214.7 212.6,217.3 223.9,219.9 235.2,222.6 246.5,225.3 257.8,228.1 269.1,230.9 280.4,233.8 291.7,236.7 303.0,239.6"/>
<polyline stroke="#08ec08" points="77.0,187.7 88.3,189.7 99.6,191.7 110.9,193.7 122.2,195.8 133.5,197.8 144.8,199.9 156.1,202.1 167.4,204.2 178.7,206.4 190.0,208.6 201.3,210.8 212.6,213.1 223.9,215.4 235.2,217.7 246.5,220.0 257.8,222.3 269.1,224.7 280.4,227.1 291.7,229.5 303.0,232.0"/>
<polyline stroke="#0000cc" points="77.0,183.0 88.3,184.8 99.6,186.6 110.9,188.5 122.2,190.3 133.5,192.2 144.8,194.2 156.1,196.2 167.4,198.2 178.7,200.2 190.0,202.3 201.3,204.4 212.6,206.5 223.9,208.7 235.2,210.9 246.5,213.2 257.8,215.4 269.1,217.7 280.4,220.0 291.7,222.4 303.0,224.8"/>
<polyline stroke="#000000" points="425.0,187.0 436.2,189.8 447.5,192.6 458.8,195.5 470.0,198.3 481.2,201.1 492.5,204.0 503.8,206.8 515.0,209.7 526.2,212.5 537.5,215.4 548.8,218.6 560.0,221.8 571.2,225.1 582.5,228.3 593.8,231.6 605.0,234.9 616.2,238.1 627.5,241.4 638.8,244.7 650.0,248.0"/>
<polyline stroke="#e4000c" points="425.0,188.5 436.2,190.7 447.5,193.0 458.8,195.3 470.0,197.6 481.2,200.0 492.5,202.4 503.8,204.9 515.0,207.5 526.2,210.1 537.5,212.7 548.8,215.4 560.0,218.1 571.2,220.9 582.5,223.7 593.8,226.6 605.0,229.5 616.2,232.5 627.5,235.5 638.8,238.6 650.0,241.7"/>
<polyline stroke="#08ec08" points="425.0,187.5 436.2,189.5 447.5,191.6 458.8,193.7 470.0,195.9 481.2,198.0 492.5,200.2 503.8,202.5 515.0,204.8 526.2,207.1 537.5,209.4 548.8,211.8 560.0,214.2 571.2,216.6 582.5,219.1 593.8,221.6 605.0,224.1 616.2,226.7 627.5,229.3 638.8,231.9 650.0,234.6"/>
<polyline stroke="#0000cc" points="425.0,183.0 436.2,184.9 447.5,186.8 458.8,188.7 470.0,190.7 481.2,192.7 492.5,194.8 503.8,196.9 515.0,199.0 526.2,201.1 537.5,203.3 548.8,205.5 560.0,207.8 571.2,210.1 582.5,212.4 593.8,214.7 605.0,217.1 616.2,219.5 627.5,222.0 638.8,224.5 650.0,227.0"/>
<polyline stroke="#000000" points="77.0,310.3 88.3,313.3 99.6,316.4 110.9,319.4 122.2,322.5 133.5,325.5 144.8,328.6 156.1,331.7 167.4,334.8 178.7,337.9 190.0,341.0 201.3,344.5 212.6,348.1 223.9,351.6 235.2,355.2 246.5,358.8 257.8,362.3 269.1,365.9 280.4,369.5 291.7,373.1 303.0,376.7"/>
<polyline stroke="#e4000c" points="77.0,312.0 88.3,314.5 99.6,317.1 110.9,319.7 122.2,322.4 133.5,325.1 144.8,327.8 156.1,330.5 167.4,333.3 178.7,336.1 190.0,339.0 201.3,341.9 212.6,344.8 223.9,347.8 235.2,350.8 246.5,353.8 257.8,356.8 269.1,359.9 280.4,363.0 291.7,366.2 303.0,369.4"/>
<polyline stroke="#08ec08" points="77.0,311.5 88.3,313.7 99.6,315.9 110.9,318.1 122.2,320.4 133.5,322.7 144.8,325.0 156.1,327.4 167.4,329.9 178.7,332.3 190.0,334.8 201.3,337.3 212.6,339.9 223.9,342.5 235.2,345.1 246.5,347.8 257.8,350.5 269.1,353.3 280.4,356.0 291.7,358.8 303.0,361.7"/>
<polyline stroke="#0000cc" points="77.0,306.8 88.3,308.7 99.6,310.7 110.9,312.7 122.2,314.8 133.5,316.9 144.8,319.0 156.1,321.2 167.4,323.5 178.7,325.8 190.0,328.1 201.3,330.5 212.6,332.9 223.9,335.4 235.2,337.9 246.5,340.5 257.8,343.1 269.1,345.7 280.4,348.5 291.7,351.2 303.0,354.0"/>
</g>
<g font-family='"Liberation Serif","Times New Roman",Times,serif' font-weight="bold" font-style="italic" font-size="16px" stroke-width="0.25">
<rect x="441" y="680" width="39" height="2" fill="#000000" shape-rendering="crispEdges"/>
<text x="501.3" y="686.4" textLength="115.5" lengthAdjust="spacingAndGlyphs" fill="#000000" stroke="#000000">Electron bunch 1</text>
<rect x="441" y="704" width="39" height="2" fill="#e4000c" shape-rendering="crispEdges"/>
<text x="501.3" y="709.6" textLength="115.5" lengthAdjust="spacingAndGlyphs" fill="#e4000c" stroke="#e4000c">Electron bunch 2</text>
<rect x="441" y="727" width="39" height="2" fill="#08ec08" shape-rendering="crispEdges"/>
<text x="501.3" y="732.7" textLength="115.5" lengthAdjust="spacingAndGlyphs" fill="#08ec08" stroke="#08ec08">Electron bunch 3</text>
<rect x="441" y="750" width="39" height="2" fill="#0000cc" shape-rendering="crispEdges"/>
<text x="501.3" y="755.8" textLength="115.5" lengthAdjust="spacingAndGlyphs" fill="#0000cc" stroke="#0000cc">Electron bunch 4</text>
<rect x="441" y="773" width="39" height="2" fill="#08e4e4" shape-rendering="crispEdges"/>
<text x="501.3" y="778.8" textLength="115.5" lengthAdjust="spacingAndGlyphs" fill="#08e4e4" stroke="#08e4e4">Electron bunch 5</text>
</g>
<g font-family='"Liberation Serif","Times New Roman",Times,serif' font-weight="bold" font-style="italic" fill="#000">
<text x="98.9" y="132.4" textLength="239.5" lengthAdjust="spacingAndGlyphs" font-size="20px">Energy Spread (per mil) vs e</text>
<text x="343.2" y="122.4" text-anchor="middle" font-size="17px" font-weight="normal" font-style="normal" font-family='"Liberation Sans",Arial,sans-serif'>+</text>
<text x="353.5" y="132.4" textLength="275.6" lengthAdjust="spacingAndGlyphs" font-size="20px">Current (mA/bunch) for Job 727</text>
<g stroke="#000" stroke-width="0.25" font-size="16px">
<text x="622.6" y="109" textLength="58.2" lengthAdjust="spacingAndGlyphs">05/03/24</text>
<text x="692.8" y="109" textLength="36.2" lengthAdjust="spacingAndGlyphs">12.52</text>
</g>
</g>
</svg>
</body></html>
